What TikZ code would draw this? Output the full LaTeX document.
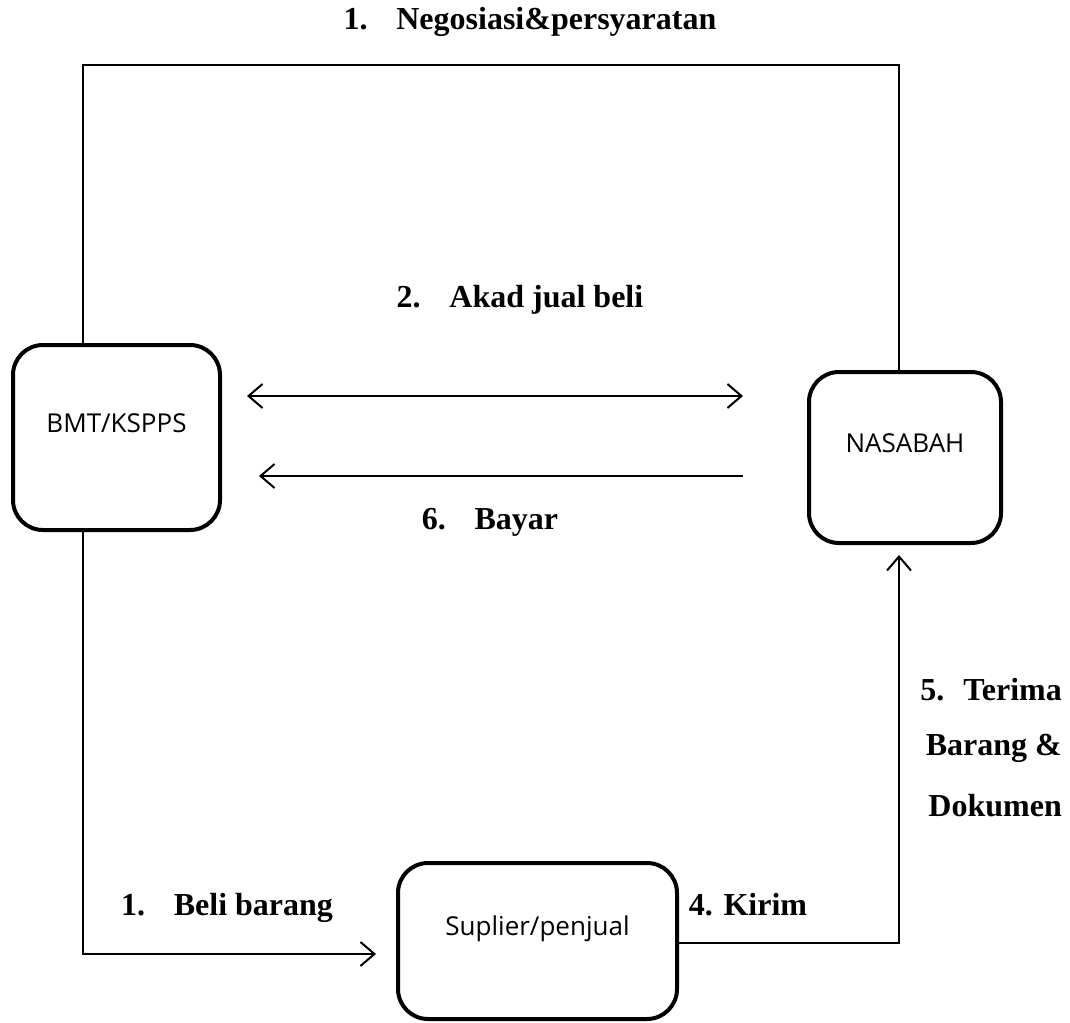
\documentclass[tikz,border=0pt]{standalone}
\usepackage{fontspec}
\setmainfont{Liberation Serif}
\newfontfamily\boxfont{Open Sans}
\usetikzlibrary{arrows.meta}
\begin{document}
\begin{tikzpicture}[x=1pt,y=-1pt,
  entity/.style={draw, line width=4pt, rounded corners=30pt, inner sep=0pt},
  entitytext/.style={font=\boxfont\fontsize{26}{30}\selectfont},
  conn/.style={draw, line width=2pt},
  tip/.style={-{Straight Barb[length=14pt,width=24pt,line width=2pt]}},
  steplabel/.style={font=\bfseries\fontsize{32}{36}\selectfont, inner sep=0pt}]
\useasboundingbox (0,0) rectangle (1070,1022);
% boxes
\node[entity, minimum width=207pt, minimum height=185pt] (bmt) at (116.5,437.5) {};
\node[entity, minimum width=192pt, minimum height=171pt] (nas) at (905,457.5) {};
\node[entity, minimum width=279pt, minimum height=156pt] (sup) at (537.5,941) {};
\node[entitytext] (bmtt) at ([yshift=14pt]bmt.center) {BMT/KSPPS};
\node[entitytext] (nast) at ([yshift=14pt]nas.center) {NASABAH};
\node[entitytext] (supt) at ([yshift=12pt]sup.center) {Suplier/penjual};
% helper coordinates
\coordinate (tl) at (83,65);
\coordinate (tr) at (899,65);
\coordinate (ya) at (0,396);
\coordinate (yb) at (0,476);
\coordinate (yl) at (0,954);
\coordinate (yr) at (0,943);
% connectors
\draw[conn] (bmt.north -| tl) -- (tl) -- (tr) -- (nas.north -| tr);
\draw[conn, {Straight Barb[length=14pt,width=24pt,line width=2pt]}-{Straight Barb[length=14pt,width=24pt,line width=2pt]}, shorten <=25pt, shorten >=64pt] (bmt.east |- ya) -- (nas.west |- ya);
\draw[conn, tip, shorten <=64pt, shorten >=37pt] (nas.west |- yb) -- (bmt.east |- yb);
\draw[conn, tip] (bmt.south -| tl) -- (tl |- yl) -- ([xshift=-20pt]sup.west |- yl);
\draw[conn, tip] (sup.east |- yr) -- (tr |- yr) -- ([yshift=-10pt]nas.south -| tr);
% labels
\node[steplabel] (l1) at (530,22) {1.\hspace{0.9em}Negosiasi\&persyaratan};
\node[steplabel] (l2) at (520,300) {2.\hspace{0.9em}Akad jual beli};
\node[steplabel] (l6) at (490,522) {6.\hspace{0.9em}Bayar};
\node[steplabel] (lb) at (227,908) {1.\hspace{0.9em}Beli barang};
\node[steplabel] (lk) at (748,905) {4. Kirim};
\node[steplabel, anchor=east] (l5a) at (1062,690) {5.\hspace{0.6em}Terima};
\node[steplabel, anchor=east] (l5b) at (1062,748) {Barang \&};
\node[steplabel, anchor=east] (l5c) at (1062,806) {Dokumen};
\end{tikzpicture}
\end{document}
